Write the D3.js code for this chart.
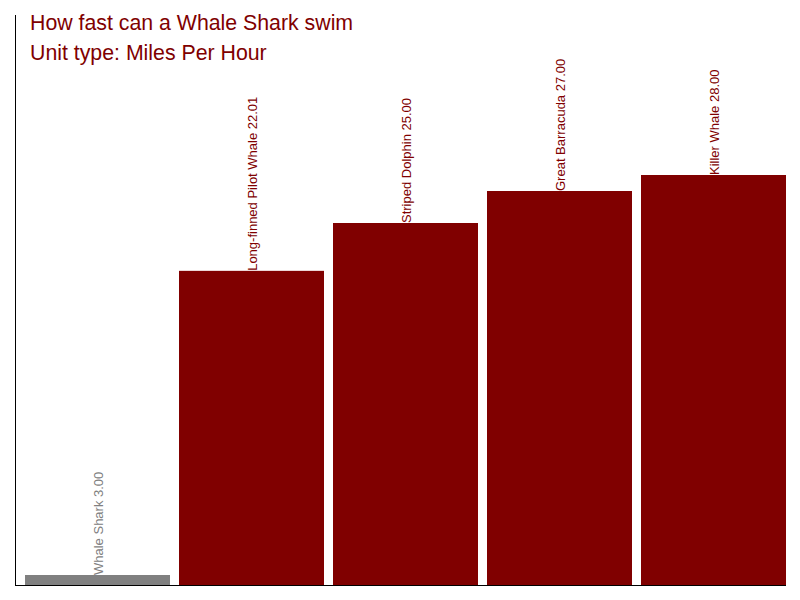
<!DOCTYPE html>
<html>
<head>
<meta charset="utf-8">
<script src="https://cdn.jsdelivr.net/npm/d3@7"></script>
<style>
  html, body { margin: 0; padding: 0; background: #fff; }
  svg { display: block; font-family: "Liberation Sans", Arial, sans-serif; }
</style>
</head>
<body>
<svg id="chart" width="800" height="600"></svg>
<script>
const categories = ["Whale Shark", "Long-finned Pilot Whale", "Striped Dolphin", "Great Barracuda", "Killer Whale"];
const speeds = [3.00, 22.01, 25.00, 27.00, 28.00];
const highlight = ["Whale Shark"];
const titleLines = ["How fast can a Whale Shark swim", "Unit type: Miles Per Hour"];

const svg = d3.select("#chart");
const axisLeftX = 15, axisBottomY = 585, axisTopY = 15, axisRightX = 786;

const x = d3.scaleBand()
  .domain(categories)
  .range([25, 786])
  .paddingInner(9 / 154)
  .paddingOuter(0);

const y = d3.scaleLinear()
  .domain([2.375, 38])
  .range([axisBottomY, axisTopY]);

const data = categories.map((c, i) => ({ name: c, value: speeds[i] }));
const colorOf = d => highlight.includes(d.name) ? "#808080" : "#800000";

svg.append("g").selectAll("rect")
  .data(data)
  .join("rect")
  .attr("x", d => x(d.name))
  .attr("y", d => y(d.value))
  .attr("width", x.bandwidth())
  .attr("height", d => axisBottomY - y(d.value))
  .attr("fill", colorOf);

svg.append("g").selectAll("text")
  .data(data)
  .join("text")
  .attr("transform", d => `translate(${x(d.name) + x.bandwidth() / 2},${y(d.value)}) rotate(-90)`)
  .attr("dy", "0.4em")
  .attr("text-anchor", "start")
  .attr("font-size", 13)
  .attr("fill", colorOf)
  .text(d => `${d.name} ${d.value.toFixed(2)}`);

svg.append("line")
  .attr("x1", axisLeftX + 0.5).attr("x2", axisLeftX + 0.5)
  .attr("y1", axisTopY).attr("y2", axisBottomY + 0.5)
  .attr("stroke", "#000").attr("stroke-width", 1);
svg.append("line")
  .attr("x1", axisLeftX).attr("x2", axisRightX)
  .attr("y1", axisBottomY + 0.5).attr("y2", axisBottomY + 0.5)
  .attr("stroke", "#000").attr("stroke-width", 1);

svg.append("g").selectAll("text")
  .data(titleLines)
  .join("text")
  .attr("x", 30)
  .attr("y", (d, i) => 29.5 + i * 30)
  .attr("font-size", 21.3)
  .attr("fill", "#800000")
  .text(d => d);
</script>
</body>
</html>
